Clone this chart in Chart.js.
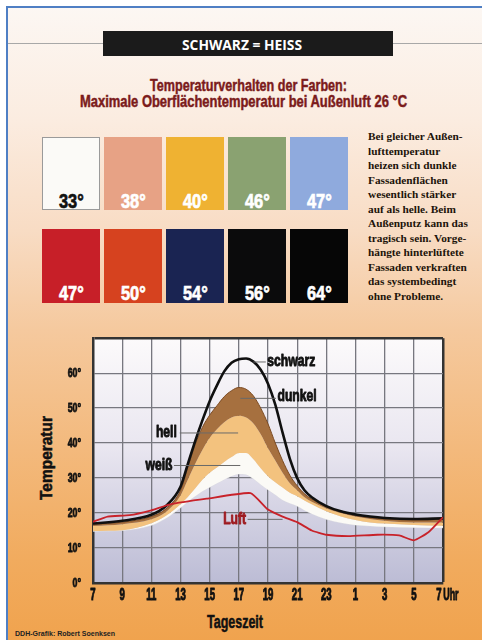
<!DOCTYPE html>
<html>
<head>
<meta charset="utf-8">
<script src="https://cdn.jsdelivr.net/npm/chart.js@4.4.1/dist/chart.umd.min.js"></script>
<style>
  html,body{margin:0;padding:0;}
  body{width:482px;height:640px;position:relative;overflow:hidden;
    background:linear-gradient(to bottom,#ffffff 0px,#ffffff 6px,#fcf7f3 7px,#fbece0 120px,#f8dcc4 230px,#f5c99e 330px,#f3b97c 450px,#f1ab5e 560px,#f0a34e 640px);}
  .frameTop{position:absolute;left:6px;top:6px;width:476px;height:2px;background:#4f7fc4;}
  .frameLeft{position:absolute;left:6px;top:6px;width:2px;height:634px;background:#4f7fc4;}
  .whiteL{position:absolute;left:0;top:0;width:6px;height:640px;background:#fff;}
  .grayline{position:absolute;left:8px;top:43px;width:474px;height:1px;background:#a8a8a8;}
  .bar{position:absolute;left:103px;top:31px;width:290px;height:25px;background:#1b1b1b;}
  .t{position:absolute;white-space:nowrap;transform-origin:0 0;line-height:1;}
  .sw{position:absolute;box-sizing:border-box;}
  .para{position:absolute;left:368px;top:129px;color:#1d140a;
    font:700 11.3px "Liberation Serif",serif;line-height:14.5px;white-space:pre;}
  canvas{position:absolute;left:0;top:318px;}
</style>
</head>
<body>
<div class="whiteL"></div>
<div class="frameTop"></div>
<div class="frameLeft"></div>
<div class="grayline"></div>
<div class="bar"></div>
<div id="texts"></div>
<div id="swatches"></div>
<div class="para">Bei gleicher Außen-
lufttemperatur
heizen sich dunkle
Fassadenflächen
wesentlich stärker
auf als helle. Beim
Außenputz kann das
tragisch sein. Vorge-
hängte hinterlüftete
Fassaden verkraften
das systembedingt
ohne Probleme.</div>
<canvas id="c" width="482" height="322"></canvas>
<script>
// ---- Swatch data (maximum surface temperature per colour) ----
const swatchColors = ['#fbfaf7','#e7a285','#efb232','#8aa271','#8faadd','#c71f28','#d6421f','#1a2452','#0b0b0c','#060606'];
const swatchValues = ['33°','38°','40°','46°','47°','47°','50°','54°','56°','64°'];

// ---- Curve data (hours after 07:00) ----
const hours   = [0,2,4,5,6,6.5,7,7.5,8,8.5,9,9.5,10,10.5,11,11.5,12,12.5,13,13.5,14,14.5,15,16,17,18,19,20,22,24];
const schwarz = [17,17.8,19.5,22,27.5,34,40.5,46.5,52,56.5,60.5,63,64,64.2,63.3,61,57,51,43,35.5,30,26.5,24.5,22,20.5,19.6,19,18.6,18.3,18.5];
const dunkel  = [16.8,17.4,19,21.2,26.5,33,39.5,44.5,48,50.7,53.3,55,55.9,55.4,53.5,50,45.5,40,35,30.8,27.8,25.5,24,21.8,20.3,19.3,18.7,18.3,18,18.2];
const hell    = [16.3,16.8,18.2,20.3,25,29.5,34,38,41.5,44,46,47.3,47.8,47.3,45.6,42.5,38.5,35,31.5,28.5,26.5,24.5,23.2,21.3,20,19,18.3,17.8,17.3,17.3];
const weissTop= [14.9,15.1,17.1,19.2,22.5,24.6,27,29.5,31.5,33,34.6,36,37.2,37.2,35.4,32.8,30.5,28.8,27.3,25.8,24.8,23.6,22.5,20.5,19,18,17.3,17,16.6,16.4];
const weissBot= [14.8,15,16.5,18.5,21.5,23.3,24.8,26.2,27.4,28.5,29.6,30.6,31.2,31,29.8,28.2,26.7,25.2,23.7,22.8,22,20.8,19.8,18.2,17.2,16.6,16.3,16.1,15.9,15.8];
const luftHours = [0,1,2.5,4,5.3,7.8,10.8,12,13,14,15,16,17.5,19.5,21,22,23,24];
const luft      = [17.5,19,19.4,20.8,22.5,24.1,25.7,21,19,17.4,15,13.8,13.4,13.8,13.6,12.2,14.5,18.8];

// ---- Tick labels ----
const xTickLabels = ['7','9','11','13','15','17','19','21','23','1','3','5','7 Uhr'];
const yTickLabels = ['0°','10°','20°','30°','40°','50°','60°',''];

const SANS = '"Liberation Sans",Arial,sans-serif';

// condensed HTML text: fits text to a target width
function place(host, text, opt){
  const s = document.createElement('span');
  s.className = 't'; s.textContent = text;
  s.style.font = opt.font; s.style.color = opt.color;
  if (opt.stroke) s.style.webkitTextStroke = opt.stroke + 'px ' + opt.color;
  host.appendChild(s);
  const w = s.getBoundingClientRect().width;
  const k = opt.scale || (opt.width / w);
  const W = w * k;
  let left = opt.cx !== undefined ? opt.cx - W/2 : opt.left;
  s.style.left = left + 'px'; s.style.top = opt.top + 'px';
  s.style.transform = 'scaleX(' + k + ')';
  if (opt.rotate){
    s.style.left = opt.x + 'px'; s.style.top = (opt.cy + W/2) + 'px';
    s.style.transform = 'rotate(-90deg) scaleX(' + k + ')';
  }
  return s;
}

(function(){
  const T = document.getElementById('texts');
  place(T, 'SCHWARZ = HEISS', {font:'700 14px "Open Sans",sans-serif', color:'#fff', cx:242, top:35, width:120});
  place(T, 'Temperaturverhalten der Farben:', {font:'700 17px '+SANS, color:'#7b1b1b', cx:248.5, top:76, width:197, stroke:0.5});
  place(T, 'Maximale Oberflächentemperatur bei Außenluft 26 °C', {font:'700 17px '+SANS, color:'#7b1b1b', cx:243.5, top:92, width:327, stroke:0.5});
  place(T, 'Tageszeit', {font:'700 18px '+SANS, color:'#111', cx:234.5, top:612, width:56, stroke:0.5});
  place(T, 'Temperatur', {font:'700 16px '+SANS, color:'#111', rotate:true, x:38, cy:458, width:84, stroke:0.5});
  place(T, 'DDH-Grafik: Robert Soenksen', {font:'700 8px '+SANS, color:'#222', left:15, top:629, width:100});

  const host = document.getElementById('swatches');
  swatchColors.forEach((c,i)=>{
    const row = Math.floor(i/5), col = i%5;
    const d = document.createElement('div');
    d.className='sw';
    const L = 42 + col*62, Tp = 137 + row*92;
    d.style.left = L + 'px'; d.style.top = Tp + 'px';
    d.style.width='58px'; d.style.height = (row===0?73:74)+'px';
    d.style.background = c;
    if(i===0) d.style.border='1.5px solid #9a9a9a';
    host.appendChild(d);
    place(host, swatchValues[i], {font:'700 21px '+SANS, color: i===0 ? '#111' : '#fff', cx:L+29, top:Tp+52, scale:0.78, stroke:0.7});
  });
})();

const pts = (xs,ys)=>xs.map((x,i)=>({x:x,y:ys[i]}));

function condText(ctx, text, x, y, k, align, sw){
  const w = ctx.measureText(text).width * k;
  let lx = align==='right' ? x - w : align==='center' ? x - w/2 : x;
  ctx.save(); ctx.translate(lx, y); ctx.scale(k,1); ctx.textAlign='left';
  ctx.fillText(text, 0, 0);
  if (sw){ ctx.strokeStyle = ctx.fillStyle; ctx.lineWidth = sw; ctx.lineJoin='round'; ctx.strokeText(text,0,0); }
  ctx.restore();
}

const bgPlugin = {
  id:'plotbg',
  beforeDraw(chart){
    const {ctx, chartArea:a} = chart;
    const g = ctx.createLinearGradient(0,a.top,0,a.bottom);
    g.addColorStop(0,'#fcfafb'); g.addColorStop(0.45,'#e9e6f0'); g.addColorStop(1,'#bcbcd5');
    ctx.save(); ctx.fillStyle=g; ctx.fillRect(a.left,a.top,a.right-a.left,a.bottom-a.top); ctx.restore();
  }
};

// condensed tick labels drawn at the library's own tick positions
const tickPlugin = {
  id:'condticks',
  afterDraw(chart){
    const {ctx, scales:{x,y}, chartArea:a} = chart;
    ctx.save(); ctx.fillStyle='#111'; ctx.textBaseline='middle';
    ctx.font = '700 16px ' + SANS;
    x.ticks.forEach((t,i)=>{
      const lab = xTickLabels[Math.round(t.value/2)];
      const px = x.getPixelForTick(i);
      if (lab.indexOf(' ')>0){
        const parts = lab.split(' ');
        const w0 = ctx.measureText(parts[0]).width*0.6;
        condText(ctx, parts[0], px-4, a.bottom+13, 0.6, 'center', 1);
        condText(ctx, parts[1], px - 4 + w0/2 + 1.5, a.bottom+13, 0.56, 'left', 0.9);
      } else condText(ctx, lab, px, a.bottom+13, 0.6, 'center', 1);
    });
    ctx.font = '700 13px ' + SANS;
    y.ticks.forEach((t,i)=>{
      const lab = yTickLabels[Math.round(t.value/10)];
      if (lab) condText(ctx, lab, a.left-12, y.getPixelForTick(i), 0.68, 'right', 0.8);
    });
    ctx.restore();
  }
};

const curveLabels = [
  {text:'schwarz', x:11.95, y:63.2, from:11.0, to:11.85, ly:63.2, color:'#111'},
  {text:'dunkel',  x:12.65, y:53.3, from:10.1, to:12.55, ly:52.8, color:'#111'},
  {text:'hell',    x:5.75,  y:42.9, from:5.95, to:9.95, ly:42.9, color:'#111', align:'right'},
  {text:'weiß',    x:5.45,  y:33.6, from:5.55, to:10.1, ly:33.6, color:'#111', align:'right'},
  {text:'Luft',    x:10.5,  y:18.2, from:10.6, to:13.0, ly:18.2, color:'#9e1a1f', align:'right'}
];
const labelPlugin = {
  id:'curvelabels',
  afterDatasetsDraw(chart){
    const {ctx, scales:{x,y}} = chart;
    ctx.save();
    curveLabels.forEach(l=>{
      ctx.strokeStyle='#6a6a6a'; ctx.lineWidth=1;
      ctx.beginPath(); ctx.moveTo(x.getPixelForValue(l.from), y.getPixelForValue(l.ly));
      ctx.lineTo(x.getPixelForValue(l.to), y.getPixelForValue(l.ly)); ctx.stroke();
      ctx.font = '700 16px ' + SANS;
      ctx.fillStyle = l.color; ctx.textBaseline='middle';
      condText(ctx, l.text, x.getPixelForValue(l.x), y.getPixelForValue(l.y), 0.76, l.align||'left', 0.9);
    });
    ctx.restore();
  }
};

new Chart(document.getElementById('c'), {
  type:'line',
  data:{datasets:[
    {label:'Luft', data:pts(luftHours,luft), borderColor:'#c8222a', borderWidth:1.8, tension:0.15, pointRadius:0, fill:false},
    {label:'schwarz', data:pts(hours,schwarz), borderColor:'#101010', borderWidth:2.6, cubicInterpolationMode:'monotone', pointRadius:0, fill:false},
    {label:'dunkel', data:pts(hours,dunkel), borderColor:'#7b4a22', borderWidth:1, backgroundColor:'#a6703f', cubicInterpolationMode:'monotone', pointRadius:0, fill:'+1'},
    {label:'hell', data:pts(hours,hell), borderColor:'rgba(0,0,0,0)', borderWidth:0, backgroundColor:'#f3c27e', cubicInterpolationMode:'monotone', pointRadius:0, fill:'+1'},
    {label:'weiß', data:pts(hours,weissTop), borderColor:'rgba(0,0,0,0)', borderWidth:0, backgroundColor:'#fbfaf6', cubicInterpolationMode:'monotone', pointRadius:0, fill:'+1'},
    {label:'weißUnten', data:pts(hours,weissBot), borderColor:'rgba(220,220,225,0.8)', borderWidth:1, cubicInterpolationMode:'monotone', pointRadius:0, fill:false}
  ]},
  options:{
    responsive:false, animation:false, devicePixelRatio:1,
    layout:{padding:{left:0,right:39,top:14,bottom:0}},
    plugins:{legend:{display:false}, tooltip:{enabled:false}},
    scales:{
      x:{type:'linear', min:0, max:24,
        ticks:{stepSize:2, autoSkip:false, maxRotation:0, padding:4, color:'rgba(0,0,0,0)',
          font:{family:SANS, size:12, weight:'700'},
          callback:(v)=>xTickLabels[Math.round(v/2)]},
        grid:{color:(c)=> (c.tick && c.tick.value===24) ? '#333' : '#77777f',
              lineWidth:(c)=> (c.tick && c.tick.value===24) ? 2.5 : 1.3, drawTicks:false},
        border:{display:true, color:'#333', width:2.5},
        afterFit:(s)=>{s.height=57;}
      },
      y:{min:0, max:70,
        ticks:{stepSize:10, padding:13, color:'rgba(0,0,0,0)',
          font:{family:SANS, size:12, weight:'700'},
          callback:(v)=>yTickLabels[Math.round(v/10)]},
        grid:{color:(c)=> (c.tick && c.tick.value===70) ? '#333' : '#77777f',
              lineWidth:(c)=> (c.tick && c.tick.value===70) ? 2.5 : 1.3, drawTicks:false},
        border:{display:true, color:'#333', width:2.5},
        afterFit:(s)=>{s.width=93;}
      }
    }
  },
  plugins:[bgPlugin, labelPlugin, tickPlugin]
});
</script>
</body>
</html>
